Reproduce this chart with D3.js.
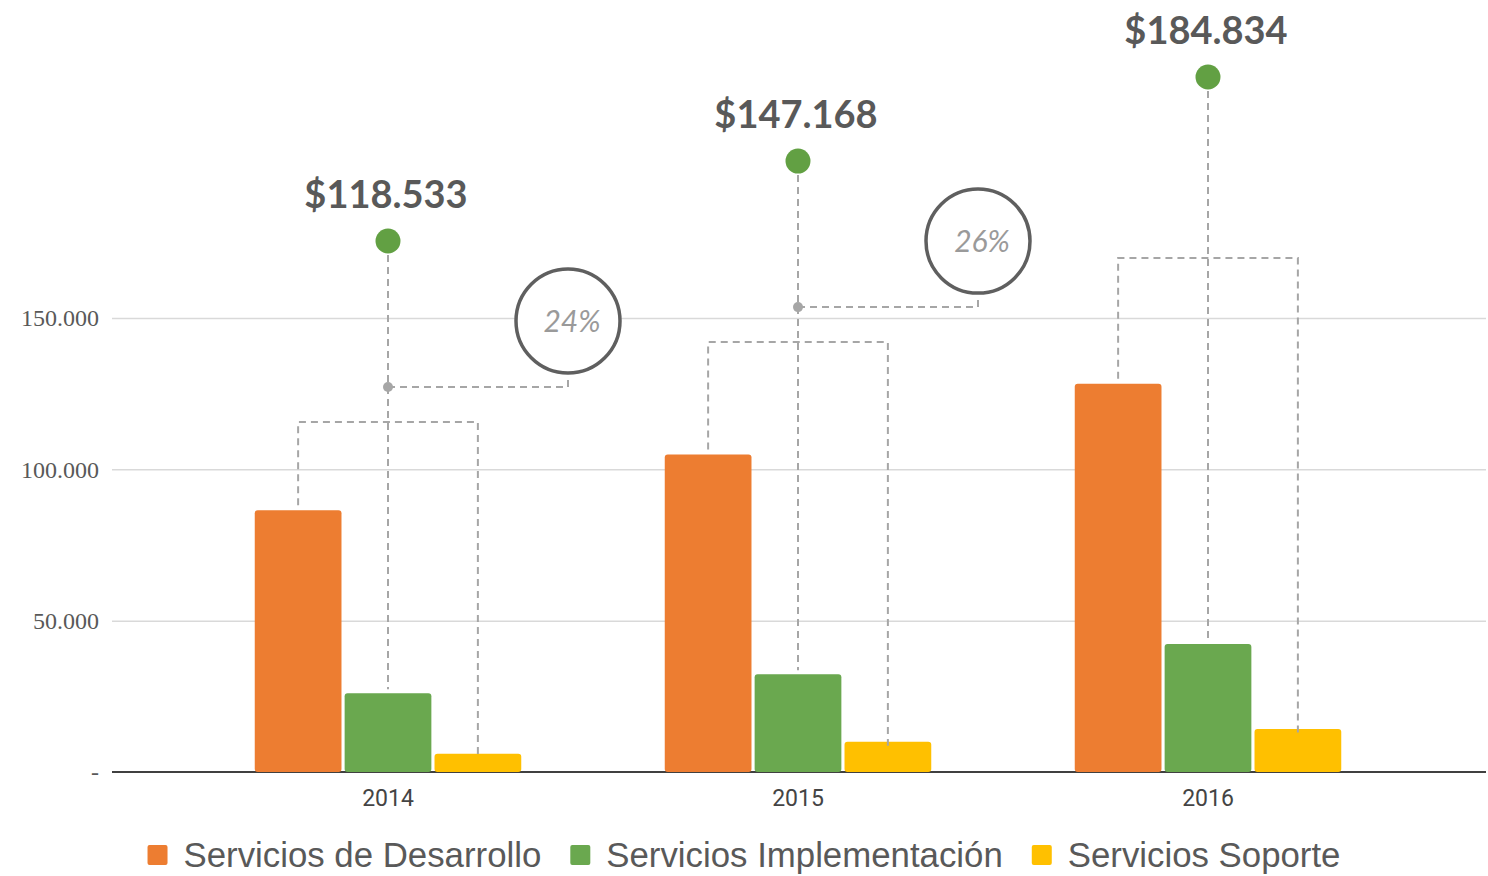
<!DOCTYPE html>
<html>
<head>
<meta charset="utf-8">
<script src="https://cdn.jsdelivr.net/npm/d3@7"></script>
<style>
  body { margin: 0; background: #fff; }
  .y.axis text { font-family: "Liberation Serif", "DejaVu Serif", serif; font-size: 24px; fill: #595959; }
  .y.axis line { stroke: #d9d9d9; stroke-width: 1.5; }
  .x.axis text { font-family: Roboto, Arial, sans-serif; font-size: 23px; fill: #444; }
  .dash { fill: none; stroke: #a6a6a6; stroke-width: 2; stroke-dasharray: 7,5; }
  .total { font-family: Lato, sans-serif; font-weight: bold; font-size: 38px; fill: #595959; text-anchor: middle; }
  .growth { font-family: Lato, sans-serif; font-style: italic; font-size: 30px; fill: #9a9a9a; text-anchor: middle; }
  .legend text { font-family: "Liberation Sans", Arial, sans-serif; font-size: 34.8px; fill: #595959; }
</style>
</head>
<body>
<div id="chart"></div>
<script>
var years = ['2014', '2015', '2016'];
var seriesNames = ['Servicios de Desarrollo', 'Servicios Implementación', 'Servicios Soporte'];
var seriesColors = ['#ED7D31', '#6AA84F', '#FFC000'];
var desarrollo = [86500, 104900, 128300];
var implementacion = [26000, 32300, 42300];
var soporte = [6033, 9968, 14234];
var totals = [118533, 147168, 184834];
var yTicks = [0, 50000, 100000, 150000];

var width = 1488, height = 876;
var plot = {left: 112, right: 1486, top: 318, bottom: 772};

var locale = d3.formatLocale({decimal: ',', thousands: '.', grouping: [3], currency: ['$', '']});
var numFormat = locale.format(',');
var moneyFormat = locale.format('$,');
var pctFormat = d3.format('.0%');

var x = d3.scaleBand().domain(years).range([183, 1413]);
var x1 = d3.scaleBand().domain(d3.range(seriesNames.length))
  .range([-x.bandwidth() * 0.325, x.bandwidth() * 0.325])
  .paddingInner(0.035);
var y = d3.scaleLinear().domain([0, 150000]).range([plot.bottom, plot.top]);
// totals markers sit on their own (log) scale above the bars
var y2 = d3.scaleLog().domain(d3.extent(totals)).range([241, 77]);

var rows = years.map(function(yr, i) {
  return {year: yr, values: [desarrollo[i], implementacion[i], soporte[i]], total: totals[i]};
});

var svg = d3.select('#chart').append('svg')
  .attr('width', width)
  .attr('height', height);

var yAxis = d3.axisLeft(y)
  .tickValues(yTicks)
  .tickSize(-(plot.right - plot.left))
  .tickPadding(13)
  .tickFormat(function(d) { return d === 0 ? '-' : numFormat(d); });

svg.append('g')
  .attr('class', 'y axis')
  .attr('transform', 'translate(' + plot.left + ',0)')
  .call(yAxis)
  .call(function(g) {
    g.select('.domain').remove();
    g.selectAll('.tick').filter(function(d) { return d === 0; }).select('line').remove();
  });

svg.append('line')
  .attr('x1', plot.left).attr('x2', plot.right)
  .attr('y1', y(0)).attr('y2', y(0))
  .attr('stroke', '#404040').attr('stroke-width', 2);

var xAxis = d3.axisBottom(x).tickSize(0).tickPadding(18);
svg.append('g')
  .attr('class', 'x axis')
  .attr('transform', 'translate(0,' + y(0) + ')')
  .call(xAxis)
  .call(function(g) { g.select('.domain').remove(); });

var groups = svg.append('g').selectAll('g')
  .data(rows)
  .enter().append('g')
  .attr('transform', function(d) { return 'translate(' + (x(d.year) + x.bandwidth() / 2) + ',0)'; });

groups.selectAll('rect')
  .data(function(d) { return d.values; })
  .enter().append('rect')
  .attr('x', function(d, j) { return x1(j); })
  .attr('width', x1.bandwidth())
  .attr('y', function(d) { return y(d); })
  .attr('height', function(d) { return y(0) - y(d); })
  .attr('rx', 3)
  .attr('fill', function(d, j) { return seriesColors[j]; });

// dashed guides, totals and growth bubbles
rows.forEach(function(d, i) {
  var cx = x(d.year) + x.bandwidth() / 2;
  var dotY = y2(d.total);
  var bracketY = dotY + 181;
  var leftX = cx + x1(0) + x1.bandwidth() / 2;
  var rightX = cx + x1(2) + x1.bandwidth() / 2;

  svg.append('path')
    .attr('class', 'dash')
    .attr('d', 'M' + cx + ',' + (dotY + 14) + 'V' + (y(d.values[1]) - 4));

  svg.append('path')
    .attr('class', 'dash')
    .attr('d', 'M' + leftX + ',' + (y(d.values[0]) - 5) + 'V' + bracketY + 'H' + rightX + 'V' + (y(d.values[2]) + 4));

  if (i < rows.length - 1) {
    var connY = dotY + 146;
    var bx = cx + 180, by = dotY + 80, r = 52;
    svg.append('path')
      .attr('class', 'dash')
      .attr('d', 'M' + cx + ',' + connY + 'H' + bx + 'V' + (by + r + 2));
    svg.append('circle')
      .attr('cx', cx).attr('cy', connY).attr('r', 5)
      .attr('fill', '#a6a6a6');
    svg.append('circle')
      .attr('cx', bx).attr('cy', by).attr('r', r)
      .attr('fill', '#fff').attr('stroke', '#5f5f5f').attr('stroke-width', 3.5);
    svg.append('text')
      .attr('class', 'growth')
      .attr('x', bx + 4).attr('y', by + 11)
      .text(pctFormat(rows[i + 1].total / d.total - 1));
  }

  svg.append('circle')
    .attr('cx', cx).attr('cy', dotY).attr('r', 12.5)
    .attr('fill', '#62A043');

  svg.append('text')
    .attr('class', 'total')
    .attr('x', cx - 2).attr('y', dotY - 33)
    .text(moneyFormat(d.total));
});

// legend, centred under the chart
var legend = svg.append('g').attr('class', 'legend');
var items = legend.selectAll('g')
  .data(seriesNames)
  .enter().append('g');

items.append('rect')
  .attr('y', 845).attr('width', 20).attr('height', 20).attr('rx', 2)
  .attr('fill', function(d, j) { return seriesColors[j]; });

items.append('text')
  .attr('x', 36).attr('y', 867)
  .text(function(d) { return d; });

var offset = 0;
var positions = [];
items.each(function() {
  var w = 36 + this.querySelector('text').getComputedTextLength();
  positions.push(offset);
  offset += w + 29;
});
var legendWidth = offset - 29;
var startX = width / 2 - legendWidth / 2;
items.attr('transform', function(d, j) { return 'translate(' + (startX + positions[j]) + ',0)'; });
</script>
</body>
</html>
